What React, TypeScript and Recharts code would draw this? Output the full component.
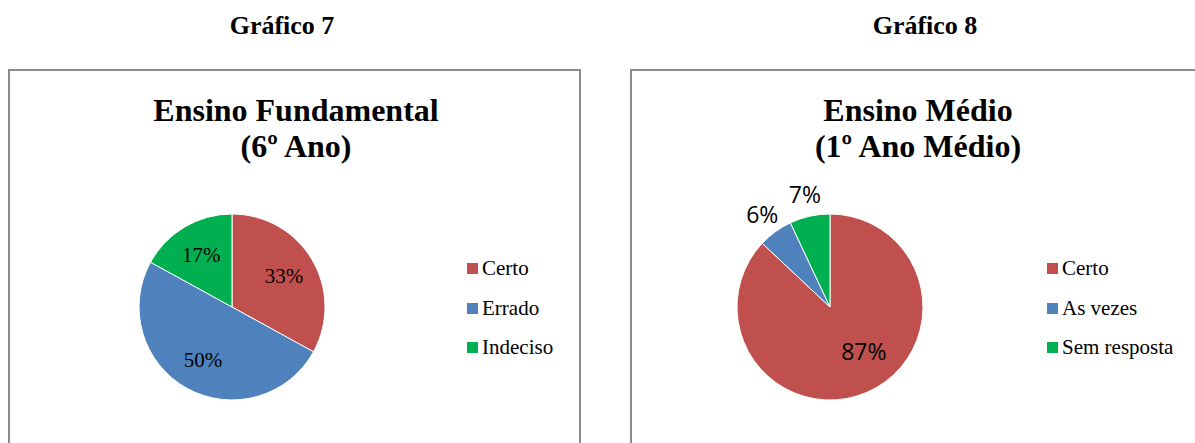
import React from "react";
import { PieChart, Pie, Cell, Legend } from "recharts";

// Gráfico 7 - Ensino Fundamental (6º Ano)
const fundCategories = ["Certo", "Errado", "Indeciso"];
const fundValues = [33, 50, 17];

// Gráfico 8 - Ensino Médio (1º Ano Médio)
const medioCategories = ["Certo", "As vezes", "Sem resposta"];
const medioValues = [87, 6, 7];

const sliceColors = ["#C0504D", "#4F81BD", "#00B050"];

const SERIF = '"Liberation Serif", "Times New Roman", serif';
const SANS = '"Open Sans", "Noto Sans", sans-serif';
const RAD = Math.PI / 180;

function buildRows(names: string[], values: number[]) {
  return names.map((name, i) => ({ name, value: values[i] }));
}

// keeps the legend in the same order as the slices
function LegendBox({ payload, order }: any) {
  const items = [...(payload || [])].sort((a: any, b: any) => order.indexOf(a.value) - order.indexOf(b.value));
  return (
    <div style={{ fontFamily: SERIF, fontSize: 21, color: "#000" }}>
      {items.map((p: any) => (
        <div key={p.value} style={{ display: "flex", alignItems: "center", height: 39.5 }}>
          <span style={{ width: 11, height: 11, background: p.color, marginRight: 4, display: "inline-block" }} />
          <span>{p.value}</span>
        </div>
      ))}
    </div>
  );
}

function fundLabel(props: any) {
  const { cx, cy, midAngle, outerRadius, percent } = props;
  const r = outerRadius * 0.65;
  const x = cx + r * Math.cos(-midAngle * RAD);
  const y = cy + r * Math.sin(-midAngle * RAD);
  return (
    <text x={x} y={y} textAnchor="middle" dominantBaseline="central" fontFamily={SERIF} fontSize={21} fill="#000">
      {Math.round(percent * 100) + "%"}
    </text>
  );
}

function medioLabel(props: any) {
  const { cx, cy, midAngle, outerRadius, percent } = props;
  const big = percent > 0.5;
  const r = big ? outerRadius * 0.6 : outerRadius * 1.24;
  // the big inside label sits a bit nearer the right edge, like Excel's best fit
  const a = big ? midAngle + 14 : midAngle;
  const x = cx + r * Math.cos(-a * RAD);
  const y = cy + r * Math.sin(-a * RAD);
  return (
    <text x={x} y={y} textAnchor="middle" dominantBaseline="central" fontFamily={SANS} fontSize={23} fill="#000">
      {Math.round(percent * 100) + "%"}
    </text>
  );
}

function Heading({ text, center, top, size, lh }: { text: string[]; center: number; top: number; size: number; lh: number }) {
  return (
    <div
      style={{
        position: "absolute",
        left: center - 250,
        width: 500,
        top,
        textAlign: "center",
        fontFamily: SERIF,
        fontWeight: "bold",
        fontSize: size,
        lineHeight: lh + "px",
        color: "#000",
      }}
    >
      {text.map((t) => (
        <div key={t}>{t}</div>
      ))}
    </div>
  );
}

export default function App() {
  const fundData = buildRows(fundCategories, fundValues);
  const medioData = buildRows(medioCategories, medioValues);
  const boxBorder = "2px solid #8c8c8c";

  return (
    <div style={{ position: "absolute", left: 0, top: 0, width: 1195, height: 443, overflow: "hidden", background: "#fff" }}>
      <Heading text={["Gráfico 7"]} center={282} top={13} size={26} lh={26} />
      <Heading text={["Gráfico 8"]} center={925} top={13} size={26} lh={26} />

      <div style={{ position: "absolute", left: 8, top: 69, width: 573, height: 420, border: boxBorder, boxSizing: "border-box" }} />
      <div style={{ position: "absolute", left: 630, top: 69, width: 620, height: 420, border: boxBorder, boxSizing: "border-box" }} />

      <Heading text={["Ensino Fundamental", "(6º Ano)"]} center={296} top={92} size={32} lh={36} />
      <Heading text={["Ensino Médio", "(1º Ano Médio)"]} center={918} top={92} size={32} lh={36} />

      <div style={{ position: "absolute", left: 0, top: 0 }}>
        <PieChart width={600} height={443} margin={{ top: 0, right: 0, bottom: 0, left: 0 }}>
          <Pie
            data={fundData}
            dataKey="value"
            nameKey="name"
            cx={232}
            cy={307}
            outerRadius={93}
            startAngle={90}
            endAngle={-270}
            stroke="#fff"
            strokeWidth={1}
            label={fundLabel}
            labelLine={false}
            isAnimationActive={false}
          >
            {fundData.map((d, i) => (
              <Cell key={d.name} fill={sliceColors[i]} />
            ))}
          </Pie>
          <Legend
            layout="vertical"
            content={<LegendBox order={fundCategories} />}
            wrapperStyle={{ left: 467, top: 249, width: 120, right: "auto", bottom: "auto" }}
          />
        </PieChart>
      </div>

      <div style={{ position: "absolute", left: 600, top: 0 }}>
        <PieChart width={595} height={443} margin={{ top: 0, right: 0, bottom: 0, left: 0 }}>
          <Pie
            data={medioData}
            dataKey="value"
            nameKey="name"
            cx={230}
            cy={307}
            outerRadius={93}
            startAngle={90}
            endAngle={-270}
            stroke="#fff"
            strokeWidth={1}
            label={medioLabel}
            labelLine={false}
            isAnimationActive={false}
          >
            {medioData.map((d, i) => (
              <Cell key={d.name} fill={sliceColors[i]} />
            ))}
          </Pie>
          <Legend
            layout="vertical"
            content={<LegendBox order={medioCategories} />}
            wrapperStyle={{ left: 447, top: 249, width: 150, right: "auto", bottom: "auto" }}
          />
        </PieChart>
      </div>
    </div>
  );
}
